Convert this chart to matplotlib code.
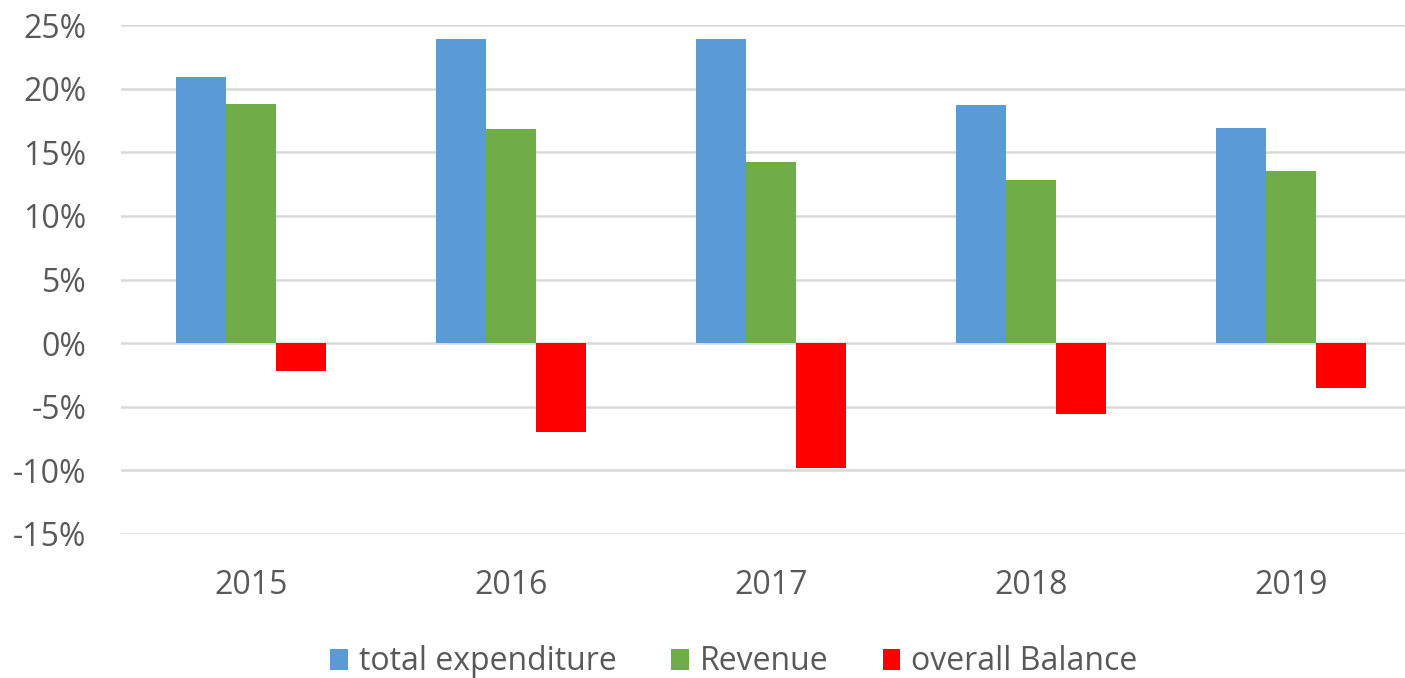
import matplotlib.pyplot as plt
import numpy as np
from matplotlib.ticker import FuncFormatter

years = ["2015", "2016", "2017", "2018", "2019"]
expenditure = [20.9, 23.9, 23.9, 18.7, 16.9]
revenue = [18.8, 16.8, 14.2, 12.8, 13.5]
balance = [-2.2, -7.0, -9.8, -5.6, -3.5]

plt.rcParams['font.family'] = ['Open Sans', 'DejaVu Sans']
grey = '#595959'

fig = plt.figure(figsize=(14.05, 6.78), dpi=100)
ax = fig.add_axes([121/1405, 1-534/678, 1300/1405, 509/678])

x = np.arange(len(years))
w = 0.192
ax.bar(x - w, expenditure, w, color='#5b9bd5', label='total expenditure', zorder=3)
ax.bar(x, revenue, w, color='#70ad47', label='Revenue', zorder=3)
ax.bar(x + w, balance, w, color='#ff0000', label='overall Balance', zorder=3)

ax.set_xlim(-0.5, len(years) - 0.5)
ax.set_ylim(-15, 25)
ax.set_yticks(range(-15, 26, 5))
ax.yaxis.set_major_formatter(FuncFormatter(lambda v, p: f"{int(v)}%"))
ax.set_xticks(x)
ax.set_xticklabels(years)
ax.tick_params(length=0, labelsize=23, colors=grey)
ax.tick_params(axis='x', pad=25)
ax.tick_params(axis='y', pad=25)
ax.grid(axis='y', color='#d9d9d9', lw=1.8, zorder=0)
for s in ax.spines.values():
    s.set_visible(False)

fig.legend(loc='center', bbox_to_anchor=(734/1405, 1-662/678), ncol=3, frameon=False,
           fontsize=23, labelcolor=grey, handlelength=0.55, handleheight=0.65,
           handletextpad=0.35, columnspacing=1.7)

fig.savefig('out.png', dpi=100)
